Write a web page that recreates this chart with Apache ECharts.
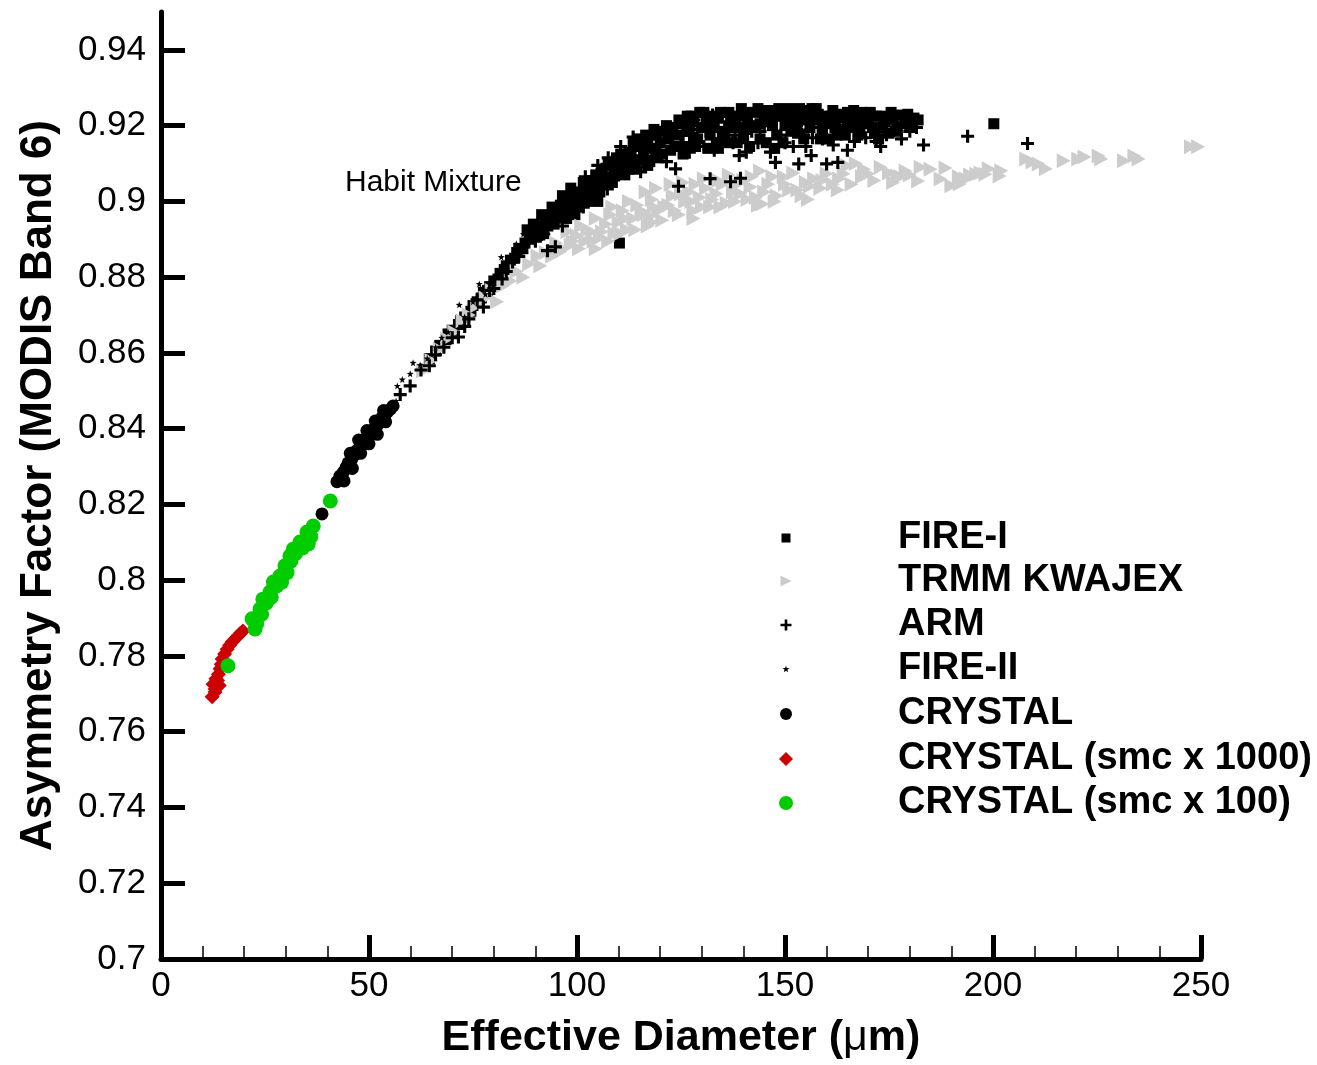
<!DOCTYPE html>
<html>
<head>
<meta charset="utf-8">
<script src="https://cdn.jsdelivr.net/npm/echarts@6/dist/echarts.min.js"></script>
<style>
html,body{margin:0;padding:0;background:#fff;}
#chart{width:1317px;height:1065px;}
</style>
</head>
<body>
<div id="chart"></div>
<script>
// ---- data (x = effective diameter in um, y = asymmetry factor) ----
const fire1 = [
[66,0.8605],[68.5,0.8635],[70,0.866],[71.5,0.8675],[73,0.8695],[74.5,0.871],[76,0.8735],[77,0.8745],[78.5,0.8765],[80,0.879],
[81,0.8795],[82.5,0.882],[84,0.8845],[85,0.885],[86,0.8875],[87.5,0.889],[89,0.8905],[90,0.892],[91,0.8935],[92.5,0.8945],
[93.5,0.896],[95,0.8975],[96,0.899],[97,0.8975],[98,0.9005],[99,0.9015],[100,0.9025],[101,0.9005],[102,0.904],[103,0.9055],
[104,0.9035],[105,0.906],[106,0.908],[107,0.9065],[108,0.9095],[109,0.9075],[110,0.9105],[111,0.9085],[112,0.9115],[113,0.913],
[114,0.9105],[115,0.9145],[116,0.9125],[117,0.916],[118,0.914],[119,0.9175],[120,0.9155],[121,0.9185],[122,0.9165],[123,0.9195],
[124,0.9175],[125,0.9205],[126,0.9145],[127,0.9185],[128,0.921],[129,0.9165],[130,0.9195],[131,0.9215],[132,0.9175],[133,0.9205],
[134,0.922],[135,0.9185],[136,0.9155],[137,0.921],[138,0.9225],[139,0.9195],[140,0.917],[141,0.9215],[142,0.9235],[143,0.9195],
[144,0.9165],[145,0.922],[146,0.924],[147,0.92],[148,0.9175],[149,0.9225],[150,0.9235],[151,0.9245],[152,0.9205],[153,0.918],
[154,0.9225],[155,0.924],[156,0.9195],[157,0.9215],[158,0.923],[159,0.9185],[160,0.9205],[161,0.9225],[162,0.9215],[163,0.919],
[164,0.922],[165,0.9235],[166,0.9205],[167,0.922],[168,0.9185],[169,0.9225],[170,0.921],[171,0.9195],[172,0.9225],[174,0.921],
[175,0.918],[176,0.9215],[178,0.9228],[179,0.9205],[180,0.9195],[181,0.922],
[100.5,0.8985],[103.5,0.9015],[106.5,0.9045],[109.5,0.9115],[112.5,0.9085],[114.5,0.9165],[117.5,0.9105],[120.5,0.9125],
[123.5,0.9145],[126.5,0.9225],[129.5,0.9235],[133.5,0.9155],[136.5,0.9235],[139.5,0.9245],[143.5,0.9245],[147.5,0.914],
[152.5,0.9235],[156.5,0.9245],[160.5,0.9165],[164.5,0.9175],[168.5,0.9235],[172.5,0.9165],[177,0.9195],
[88,0.8925],[89.5,0.894],[91.5,0.8965],[92,0.8915],[94,0.8985],[94.5,0.894],[96.5,0.9015],[97.5,0.8955],[98.5,0.9035],[99.5,0.8965],
[101.5,0.905],[102.5,0.9],[104.5,0.907],[105.5,0.9025],[107.5,0.91],[108.5,0.905],[110.5,0.9125],[111.5,0.907],[113.5,0.9155],[114,0.9085],
[116.5,0.9175],[117,0.9095],[118.5,0.919],[119.5,0.9115],[121.5,0.92],[122.5,0.9135],[124.5,0.9215],[125.5,0.9125],[127.5,0.9225],[128.5,0.9145],
[130.5,0.9235],[131.5,0.914],[132.5,0.9195],[134.5,0.9235],[135.5,0.917],[137.5,0.9195],[138.5,0.9155],[140.5,0.9225],[141.5,0.9145],[142.5,0.92],
[144.5,0.9235],[145.5,0.9155],[146.5,0.921],[148.5,0.9245],[149.5,0.9155],[150.5,0.921],[151.5,0.9185],[153.5,0.9245],[154.5,0.9165],[155.5,0.9215],
[157.5,0.9245],[158.5,0.9165],[159.5,0.9225],[161.5,0.924],[162.5,0.9175],[163.5,0.923],[165.5,0.9195],[166.5,0.924],[167.5,0.9175],[169.5,0.9205],
[170.5,0.9235],[171.5,0.918],[173,0.9225],[173.5,0.9195],[175.5,0.9235],[176.5,0.9185],[179.5,0.923],[182,0.9215],[127,0.9205],[133,0.9225],
[138,0.921],[144,0.9205],[150,0.92],[156,0.923],[162,0.9195],[128,0.917],[134,0.914],[141,0.919],[147,0.9225],[153,0.921],
[159,0.92],[165,0.9215],[119,0.914],[115.5,0.911],[112,0.9095],[109,0.9085],[105,0.9045],[102,0.902],[98.5,0.8985],[95.5,0.896],
[93,0.8935],[64.5,0.8585],[67,0.862],[69,0.865],[72,0.8685],[75,0.8725],[77.5,0.876],[79,0.8775],[81.5,0.881],[83,0.883],
[85.5,0.8865],[87,0.8875],[88.5,0.89],[90.5,0.891],
[105,0.9],[110.2,0.889],[200.2,0.9205]
];
const trmm = [
[63,0.8553],[65,0.858],[67,0.861],[68.8,0.8637],[70.5,0.8655],[72.5,0.8685],[74,0.87],[76,0.8725],[78,0.8745],[79.5,0.8765],
[80.8,0.8735],[82.3,0.8777],[84,0.879],[85.5,0.8815],[87.1,0.88],[88.5,0.8835],[90.5,0.8856],[91.2,0.883],[92.5,0.8865],[94,0.8855],
[95,0.889],[96,0.8867],[97.7,0.892],[98.5,0.8885],[100,0.891],[101,0.8935],[102,0.8895],[103.5,0.892],[104.5,0.8955],[105.5,0.8905],
[107,0.894],[108,0.8965],[109,0.8915],[110,0.8945],[111,0.8975],[112,0.8925],[113.5,0.8955],[114.5,0.899],[116,0.8965],[117,0.8935],
[118,0.9005],[119.5,0.8975],[120.5,0.895],[122,0.899],[123,0.9015],[124.5,0.8965],[126,0.9],[127,0.9025],[128,0.8975],[129.5,0.901],
[131,0.9035],[132,0.8985],[133.5,0.902],[135,0.9045],[136,0.8995],[137.5,0.9025],[139.3,0.902],[140,0.9055],[141.7,0.9038],[143,0.901],
[144,0.908],[144.6,0.8993],[146,0.9045],[148,0.9015],[149.7,0.9065],[151,0.903],[153,0.903],[155,0.905],[157,0.906],[158.5,0.9035],
[160,0.9073],[161.5,0.9045],[162.7,0.903],[164.1,0.9073],[165,0.9094],[167,0.91],[168.5,0.9065],[170,0.9073],[173,0.909],[177,0.9067],
[177.8,0.9065],[180,0.907],[182,0.9054],[182.6,0.909],[185,0.9085],[187.4,0.9059],[188.6,0.9088],[190,0.9041],[192,0.9046],[193.5,0.9059],
[191.8,0.9065],[194.5,0.907],[196,0.9072],[197,0.9075],[198.2,0.9072],[199,0.9086],[201.6,0.9067],[202,0.9081],[208,0.9112],[209.5,0.9104],
[211,0.9099],[212.7,0.9086],[217,0.9107],[220.5,0.9112],[222,0.9117],[225.4,0.912],[226,0.9112],[231.5,0.9107],[234,0.912],[235,0.9112],
[247.6,0.9144],[249.3,0.9144],
[96.5,0.8875],[99,0.8895],[100.5,0.8875],[102.5,0.8925],[104,0.8895],[106,0.892],[107.5,0.8895],[108.5,0.8985],[110.5,0.8915],[111.5,0.8955],
[112.5,0.9],[114,0.8925],[115.5,0.8975],[116.5,0.9025],[117.5,0.896],[118.5,0.8985],[119,0.9035],[121,0.8985],[122.5,0.9045],[123.5,0.8975],
[125,0.902],[125.5,0.905],[127.5,0.9],[128.5,0.9045],[130,0.8985],[130.5,0.906],[132.5,0.9005],[134,0.9055],[134.5,0.8985],[136.5,0.907],
[138,0.9],[138.5,0.9045],[141,0.9005],[142,0.9065],[145,0.9025],[147,0.9065],[147.5,0.9],[150,0.9045],[152,0.9075],[154,0.9015],
[156,0.904],[159,0.9055],[163,0.906],[166,0.9045],[169,0.9085],[171.5,0.9055],[175,0.9075],[176,0.905],[179,0.908],[104.5,0.8875],
[118,0.8945],[128,0.8955],[143.5,0.899],[155.5,0.9005]
];
const arm = [
[57.5,0.849],[59.9,0.8513],[64.5,0.8566],[68,0.8615],[71.5,0.8642],[74,0.869],[77.5,0.8721],[80,0.877],[82,0.8795],[84.5,0.884],
[86,0.8855],[88,0.8893],[89.5,0.8905],[91,0.892],[92,0.8914],[92.9,0.887],[93,0.894],[94.8,0.888],[96,0.8975],[97.7,0.8959],
[99,0.9],[100.5,0.902],[101.5,0.8985],[103,0.905],[104.5,0.9005],[106,0.9085],[107.3,0.9033],[108.5,0.9105],[110,0.907],[111.5,0.9125],
[113,0.909],[115.3,0.9078],[116.5,0.9145],[118,0.912],[120,0.9165],[121.5,0.9105],[123.7,0.9086],[124.4,0.904],[125.5,0.9175],[127,0.913],
[129,0.919],[130.5,0.9145],[132,0.906],[132.2,0.9209],[132.6,0.9228],[134,0.9165],[135.5,0.9195],[136.9,0.9052],[137.5,0.9155],[139,0.9121],
[139.3,0.9061],[140.7,0.913],[142,0.9185],[143.5,0.9155],[145,0.9205],[146.5,0.913],[147.7,0.9103],[149,0.9175],[150.5,0.9195],[152,0.9145],
[153.3,0.9099],[154.5,0.9175],[156.3,0.9121],[156.6,0.9168],[158,0.9195],[160,0.9099],[161.6,0.9149],[162.7,0.9103],[164,0.9185],[166.7,0.9158],
[168,0.9205],[169.4,0.9168],[171.9,0.9158],[174.4,0.9176],[177,0.9195],[179,0.9212],[181.6,0.9195],[183.3,0.9149],[193.9,0.9172],[208.3,0.9153],
[102,0.9065],[105,0.9095],[107.5,0.9115],[110.5,0.9145],[113.5,0.917],[116,0.9105],[119,0.9185],[122.5,0.9195],[125,0.9145],[128,0.9215],
[131,0.9185],[133,0.9135],[136,0.921],[138,0.9175],[141,0.9155],[144,0.9185],[147,0.9215],[150,0.9155],[152.5,0.9195],[155,0.9145],
[157.5,0.9225],[159,0.9165],[163,0.9215],[165,0.9135],[167.5,0.9195],[170.5,0.9215],[173,0.9145],[176,0.9205],[178,0.9165],[180,0.9185],
[96.5,0.8935],[98.5,0.9],[95,0.8945],[90,0.8895],[86.5,0.887],[83,0.8815],[79,0.8765],[76,0.874],[73,0.867],[70,0.864],
[66,0.8595],[62.5,0.8555]
];
const fire2 = [
[43.5,0.8262],[46,0.831],[49,0.8365],[52,0.8405],[55.5,0.8455],[56.5,0.8473],[56.8,0.8513],[58,0.853],[59.9,0.8545],[60.6,0.8574],
[62.3,0.8568],[64,0.8585],[66,0.8615],[67.5,0.864],[69,0.8655],[71.7,0.8727],[73,0.8695],[75,0.8735],[76.5,0.8782],[78,0.8755],
[80,0.8795],[81.8,0.8853],[83,0.882],[85.4,0.8888],[87.1,0.8914],[89,0.8925],[91,0.8955],[93,0.8975],[95,0.8995],[97,0.9015],[99,0.904]
];
const crystal = [
[38.7,0.8175],[42.3,0.826],[43,0.8275],[43.8,0.8285],[44.5,0.8298],[45,0.831],[45.8,0.8318],[46.5,0.833],[47,0.8342],[47.8,0.835],
[48.5,0.8362],[49,0.8372],[49.8,0.838],[50.5,0.839],[51,0.8398],[51.8,0.8405],[52.5,0.8415],[53,0.8428],[53.8,0.8435],[54.5,0.8445],
[55.2,0.8452],[55.8,0.846],[44,0.8262],[46,0.8295],[48,0.8335],[50,0.836],[52,0.8385],[54,0.8418],[45.5,0.8335],[47.5,0.837],
[49.5,0.8395],[51.5,0.842],[53.5,0.8448]
];
const crystalSmc1000 = [
[12.3,0.7692],[13,0.7705],[13,0.7713],[12.5,0.7725],[13.2,0.774],[13.8,0.7752],[14.2,0.7766],[14.5,0.7778],[14.7,0.7792],[15.3,0.7805],
[15.9,0.7818],[16.5,0.7828],[17.1,0.7837],[17.8,0.7845],[18.5,0.7853],[19.1,0.786],[19.7,0.7866],[13.6,0.7735],[14,0.7722]
];
const crystalSmc100 = [
[16.1,0.7774],[22.6,0.7871],[21.9,0.7898],[23,0.7885],[23.8,0.7924],[24.2,0.791],[24.5,0.795],[25.3,0.794],[26.2,0.7969],[26.5,0.7955],
[27,0.7995],[27.8,0.7985],[28.6,0.8011],[29,0.7995],[29.8,0.8038],[30.3,0.802],[31,0.8064],[31.2,0.805],[31.8,0.8082],[32.3,0.807],
[33.4,0.8101],[34,0.8085],[35.4,0.8096],[35.1,0.8127],[36,0.8115],[36.6,0.8143],[40.7,0.8209]
];
const seriesNames = ['FIRE-I','TRMM KWAJEX','ARM','FIRE-II','CRYSTAL','CRYSTAL (smc x 1000)','CRYSTAL (smc x 100)'];
const yTickValues = [0.7,0.72,0.74,0.76,0.78,0.8,0.82,0.84,0.86,0.88,0.9,0.92,0.94];
const xTickValues = [0,50,100,150,200,250];
const annotation = 'Habit Mixture';

// ---- styling ----
const FONT = '"Liberation Sans", Arial, Helvetica, sans-serif';
const PLUS = 'path://M3.8,0H6.2V3.8H10V6.2H6.2V10H3.8V6.2H0V3.8H3.8Z';
const TRI_R = 'path://M0,0L10,5L0,10Z';
const STAR = 'path://M5,0L6.2,3.4L10,3.6L7,5.9L8.1,9.5L5,7.4L1.9,9.5L3,5.9L0,3.6L3.8,3.4Z';
const styles = [
  {symbol:'rect', size:11, color:'#000000', lw:9, lh:9},
  {symbol:TRI_R, size:[14,15], color:'#cccccc', lw:11, lh:12},
  {symbol:PLUS, size:13, color:'#000000', lw:11, lh:11},
  {symbol:STAR, size:7, color:'#000000', lw:7, lh:7},
  {symbol:'circle', size:13, color:'#000000', lw:12, lh:12},
  {symbol:'diamond', size:15, color:'#cc0000', lw:14, lh:14},
  {symbol:'circle', size:15, color:'#00cc00', lw:14, lh:14}
];
const datasets = [fire1, trmm, arm, fire2, crystal, crystalSmc1000, crystalSmc100];
const legendRowsY = [538,581,625,669,714,759,803];

const series = seriesNames.map((n,i)=>({
  name:n, type:'scatter', data:datasets[i],
  symbol:styles[i].symbol, symbolSize:styles[i].size,
  itemStyle:{color:styles[i].color, opacity:1},
  emphasis:{disabled:true}, silent:true
}));

const legends = seriesNames.map((n,i)=>{
  const w = styles[i].lw, h = styles[i].lh;
  return {
    data:[{name:n}], orient:'vertical', selectedMode:false,
    left: 786 - w/2, top: legendRowsY[i] - 19, padding:0, itemGap:0,
    itemWidth:w, itemHeight:h,
    textStyle:{fontSize:38, fontWeight:'bold', color:'#000', fontFamily:FONT, lineHeight:38, padding:[0,0,0,107 - w/2]}
  };
});

const chart = echarts.init(document.getElementById('chart'), null, {renderer:'canvas'});
chart.setOption({
  animation:false,
  backgroundColor:'#ffffff',
  title:{text:annotation, left:345, top:168, padding:0,
    textStyle:{fontSize:30, fontWeight:'normal', color:'#000', fontFamily:FONT}},
  legend:legends,
  grid:{left:161, right:116, top:12, bottom:105, containLabel:false},
  xAxis:{
    type:'value', min:0, max:250, interval:50,
    name:'Effective Diameter ({mu|\u03bc}m)', nameLocation:'middle', nameGap:58,
    nameTextStyle:{fontSize:43, fontWeight:'bold', color:'#000', fontFamily:FONT,
      rich:{mu:{fontSize:43, fontWeight:'normal', color:'#000', fontFamily:FONT}}},
    axisLine:{show:true, onZero:false, lineStyle:{color:'#000', width:5}},
    axisTick:{show:true, inside:true, length:24, lineStyle:{color:'#000', width:5}},
    minorTick:{show:true, splitNumber:5, length:13, lineStyle:{color:'#000', width:1.5}},
    axisLabel:{margin:10, fontSize:35, color:'#000', fontFamily:FONT,
      customValues:xTickValues},
    splitLine:{show:false}
  },
  yAxis:{
    type:'value', min:0.7, max:0.95, interval:0.02,
    name:'Asymmetry Factor (MODIS Band 6)', nameLocation:'middle', nameGap:100,
    nameTextStyle:{fontSize:44, fontWeight:'bold', color:'#000', fontFamily:FONT},
    axisLine:{show:true, onZero:false, lineStyle:{color:'#000', width:5}},
    axisTick:{show:true, inside:true, length:24, lineStyle:{color:'#000', width:5},
      customValues:yTickValues},
    axisLabel:{margin:15, fontSize:35, color:'#000', fontFamily:FONT,
      customValues:yTickValues,
      formatter:v=>String(+(+v).toFixed(2))},
    splitLine:{show:false}
  },
  series:series
});
</script>
</body>
</html>
